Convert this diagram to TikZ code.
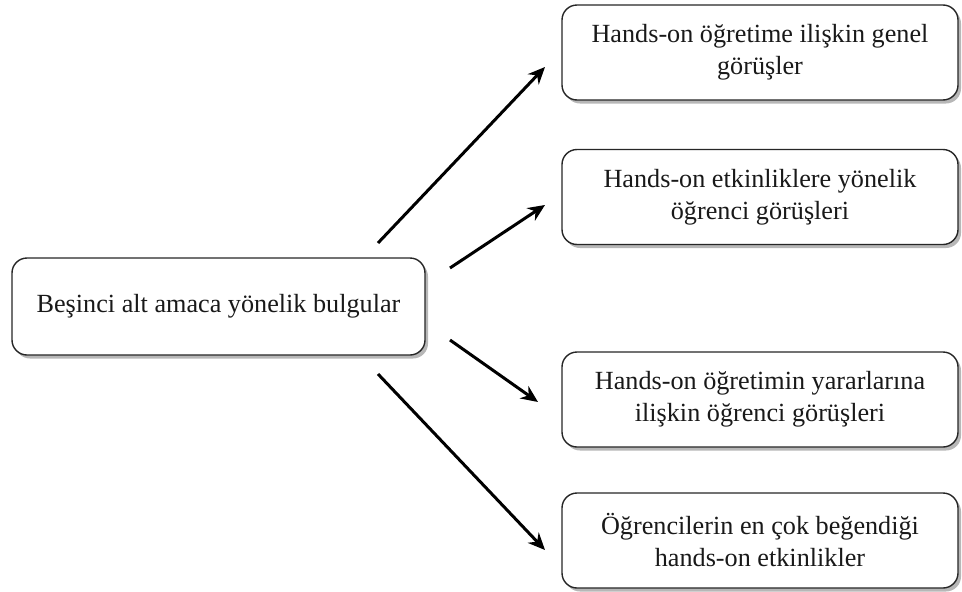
\documentclass[tikz,border=0pt]{standalone}
\usepackage{fontspec}
\setmainfont{Liberation Serif}
\usetikzlibrary{shadows,arrows.meta}
\begin{document}
\begin{tikzpicture}[x=1pt,y=-1pt,
  topic/.style={draw=black!85, line width=1.4pt, rounded corners=15pt, fill=white,
    align=center, inner sep=0pt, text=black!90,
    font=\fontsize{26.2}{32}\selectfont,
    drop shadow={shadow xshift=3pt, shadow yshift=-3.5pt, fill=black!40, opacity=0.7}},
  link/.style={line width=3pt, -{Stealth[length=17pt,width=15pt]}}]
\useasboundingbox (0,0) rectangle (962,592);
\node[topic, minimum width=413pt, minimum height=97pt] (root) at (218.5,306.5)
  {Beşinci alt amaca yönelik bulgular};
\node[topic, minimum width=396pt, minimum height=95pt] (b1) at (760,52.5)
  {Hands-on öğretime ilişkin genel\\görüşler};
\node[topic, minimum width=396pt, minimum height=95pt] (b2) at (760,197)
  {Hands-on etkinliklere yönelik\\öğrenci görüşleri};
\node[topic, minimum width=396pt, minimum height=95pt] (b3) at (760,399.5)
  {Hands-on öğretimin yararlarına\\ilişkin öğrenci görüşleri};
\node[topic, minimum width=396pt, minimum height=95pt] (b4) at (760,540.5)
  {Öğrencilerin en çok beğendiği\\hands-on etkinlikler};
% free arrow ends, kept clear of the boxes
\coordinate (s1) at (378,243); \coordinate (e1) at (545,67);
\coordinate (s2) at (450,268); \coordinate (e2) at (545,205);
\coordinate (s3) at (450,340); \coordinate (e3) at (538,402);
\coordinate (s4) at (378,374); \coordinate (e4) at (545,550);
\draw[link] (s1) -- (e1);
\draw[link] (s2) -- (e2);
\draw[link] (s3) -- (e3);
\draw[link] (s4) -- (e4);
\end{tikzpicture}
\end{document}
